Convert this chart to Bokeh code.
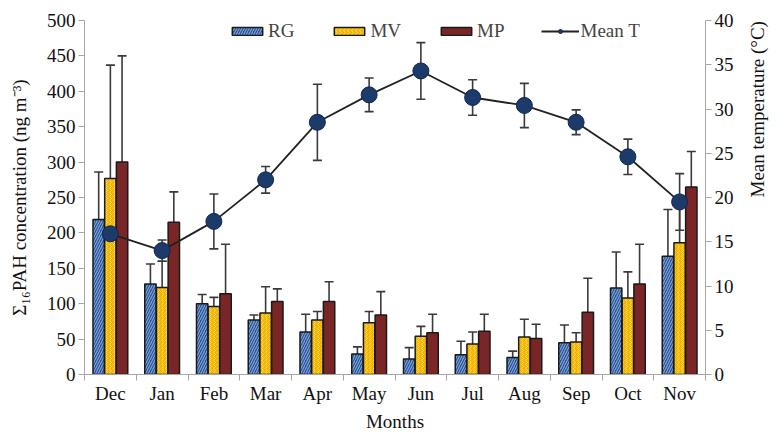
import math
import numpy as np
from bokeh.plotting import figure
from bokeh.models import (ColumnDataSource, Range1d, LinearAxis, FixedTicker,
                          Whisker, TeeHead, Legend, LegendItem)
from bokeh.embed import file_html
from bokeh.resources import INLINE

months = ["Dec", "Jan", "Feb", "Mar", "Apr", "May", "Jun", "Jul", "Aug", "Sep", "Oct", "Nov"]
rg = [219, 128, 100, 77, 60, 29, 22, 28, 24, 45, 122, 167]
rg_err = [67, 28, 13, 7, 25, 10, 16, 19, 9, 25, 51, 66]
mv = [277, 123, 96, 87, 77, 73, 54, 43, 53, 46, 108, 186]
mv_err = [160, 37, 13, 37, 12, 16, 14, 17, 25, 13, 37, 57]
mp = [300, 215, 114, 103, 103, 84, 59, 61, 51, 88, 128, 265]
mp_err = [150, 43, 70, 18, 28, 33, 26, 24, 20, 48, 56, 50]
temp = [15.9, 14.0, 17.3, 22.0, 28.5, 31.6, 34.3, 31.3, 30.4, 28.5, 24.6, 19.5]
temp_err = [2.0, 1.2, 3.1, 1.5, 4.3, 1.9, 3.2, 2.0, 2.5, 1.4, 2.0, 3.2]
left_ticks = list(range(0, 501, 50))
right_ticks = list(range(0, 41, 5))

FONT = "Liberation Serif"
AXIS_GRAY = "#A6A6A6"
ERR_COLOR = "#3a3a3a"

n = len(months)
xc = np.arange(n) + 0.5
bw = 0.22
off = 0.226

p = figure(width=781, height=434, output_backend="svg", toolbar_location=None,
           x_range=Range1d(0, n), y_range=Range1d(0, 500),
           min_border_left=84, min_border_right=76, min_border_top=20, min_border_bottom=10,
           outline_line_color=None)
p.xgrid.visible = False
p.ygrid.visible = False
p.extra_y_ranges = {"t": Range1d(0, 40)}

series = [
    ("RG", rg, rg_err, -off, dict(fill_color="#2A5290", hatch_pattern="/", hatch_color="#7FA6DD",
                                  hatch_scale=5, hatch_weight=1.1)),
    ("MV", mv, mv_err, 0.0, dict(fill_color="#F2B705", hatch_pattern=">", hatch_color="#FFD860",
                                 hatch_scale=4, hatch_weight=1.0)),
    ("MP", mp, mp_err, off, dict(fill_color="#7A2626")),
]

legend_items = []
for name, vals, errs, dx, style in series:
    src = ColumnDataSource(dict(x=xc + dx, top=vals,
                                upper=np.array(vals) + np.array(errs),
                                lower=np.array(vals) - np.array(errs)))
    r = p.vbar(x="x", top="top", width=bw, source=src, line_color="#1a1a1a", line_width=1.5, **style)
    legend_items.append(LegendItem(label=name, renderers=[r]))
    p.add_layout(Whisker(base="x", upper="upper", lower="lower", source=src,
                         line_color=ERR_COLOR, line_width=1.6,
                         upper_head=TeeHead(size=9, line_color=ERR_COLOR, line_width=1.6),
                         lower_head=TeeHead(size=9, line_color=ERR_COLOR, line_width=1.6)))

tsrc = ColumnDataSource(dict(x=xc, t=temp,
                             upper=np.array(temp) + np.array(temp_err),
                             lower=np.array(temp) - np.array(temp_err)))
p.add_layout(Whisker(base="x", upper="upper", lower="lower", source=tsrc, y_range_name="t",
                     line_color=ERR_COLOR, line_width=1.6,
                     upper_head=TeeHead(size=9, line_color=ERR_COLOR, line_width=1.6),
                     lower_head=TeeHead(size=9, line_color=ERR_COLOR, line_width=1.6)))
tl = p.line("x", "t", source=tsrc, y_range_name="t", line_color="#222222", line_width=1.8)
tm = p.scatter("x", "t", source=tsrc, y_range_name="t", size=16, marker="circle",
               fill_color="#1C3B6B", line_color="#10284d", line_width=1)
legend_items.append(LegendItem(label="Mean T", renderers=[tl, tm]))

# x axis
xa = p.xaxis[0]
xa.ticker = FixedTicker(ticks=list(xc), minor_ticks=list(range(0, n + 1)))
xa.major_label_overrides = {float(x): m for x, m in zip(xc, months)}
xa.major_tick_out = 0
xa.major_tick_in = 0
xa.minor_tick_out = 6
xa.minor_tick_in = 0
xa.minor_tick_line_color = AXIS_GRAY
xa.axis_line_color = AXIS_GRAY
xa.major_label_standoff = 2
xa.axis_label = "Months"
xa.axis_label_standoff = 4

# left axis
ya = p.yaxis[0]
ya.ticker = FixedTicker(ticks=left_ticks)
ya.axis_label = "Σ₁₆PAH concentration (ng m⁻³)"
ya.axis_label_standoff = 14

# right axis
ra = LinearAxis(y_range_name="t", ticker=FixedTicker(ticks=right_ticks),
                axis_label="Mean temperature (°C)")
ra.axis_label_standoff = 21
ra.axis_label_orientation = math.pi / 2
p.add_layout(ra, "right")

for ax in [ya, ra]:
    ax.major_tick_out = 6
    ax.major_tick_in = 0
    ax.minor_tick_out = 0
    ax.minor_tick_in = 0
    ax.major_tick_line_color = AXIS_GRAY
    ax.axis_line_color = AXIS_GRAY
    ax.major_label_standoff = 3

for ax in [xa, ya, ra]:
    ax.major_label_text_font = FONT
    ax.major_label_text_font_size = "19px"
    ax.major_label_text_color = "#111111"
    ax.axis_label_text_font = FONT
    ax.axis_label_text_font_size = "19px"
    ax.axis_label_text_font_style = "normal"
    ax.axis_label_text_color = "#111111"

legend = Legend(items=legend_items, orientation="horizontal", location=(144, 332),
                glyph_width=38, glyph_height=10, spacing=36, padding=2, margin=0,
                label_text_font=FONT, label_text_font_size="19px", label_standoff=2,
                border_line_color=None, background_fill_alpha=0)
p.add_layout(legend, "center")

open("out.html", "w").write(file_html(p, INLINE))
